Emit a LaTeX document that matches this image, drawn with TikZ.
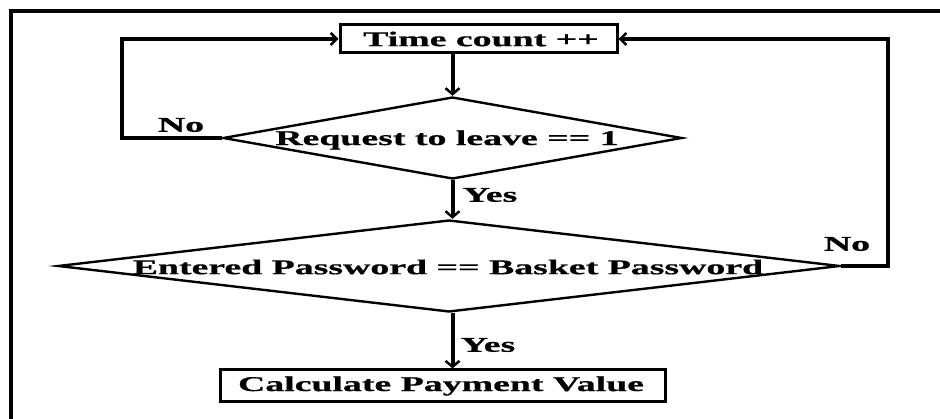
\documentclass[tikz,border=0pt]{standalone}
\usepackage{fontspec}
\usepackage{graphicx}
\setmainfont{Liberation Serif}
\newfontfamily\heavyserif{Liberation Serif Bold}[FakeBold=0.6]
\usetikzlibrary{shapes.geometric,arrows.meta}

% wide heavy lettering used for every label
\newcommand\widetext[1]{\scalebox{1.8}[1]{\fontsize{21}{24}\heavyserif #1}}

\begin{document}
\begin{tikzpicture}[x=1pt,y=-1pt,
  procbox/.style={draw,line width=3pt,rectangle,inner sep=0pt},
  decision/.style={draw,line width=2.4pt,diamond,inner sep=0pt},
  flow/.style={line width=4pt,-{Straight Barb[length=6pt,width=14pt,line width=2.5pt]}},
  loopline/.style={line width=3.5pt,-{Straight Barb[length=6pt,width=12pt,line width=2.5pt]}},
  tag/.style={inner sep=0pt,anchor=center}]
  \useasboundingbox (0,0) rectangle (940,419);
  \fill[white] (0,0) rectangle (940,419);

  % frame
  \draw[line width=4pt] (11,419) -- (11,11) -- (940,11);

  % nodes
  \node[procbox,minimum width=277pt,minimum height=28pt] (count) at (478.5,39) {};
  \node[tag] at (481,39) {\widetext{Time count ++}};

  \node[decision,minimum width=459pt,minimum height=82pt] (leave) at (452.5,138) {};
  \node[tag] at (447,140) {\widetext{Request to leave == 1}};

  \node[decision,minimum width=782pt,minimum height=92pt] (pass) at (449,266) {};
  \node[tag] at (448,267) {\widetext{Entered Password == Basket Password}};

  \node[procbox,minimum width=445pt,minimum height=32pt] (pay) at (442.5,386) {};
  \node[tag] at (441,386) {\widetext{Calculate Payment Value}};

  % connectors
  \draw[flow] (leave.north |- count.south) -- (leave.north);
  \draw[flow] (leave.south) -- (pass.north -| leave.south);
  \draw[flow] (pass.south -| leave.south) -- (pay.north -| leave.south);

  \coordinate (lup) at (122,39);
  \coordinate (rup) at (888,39);
  \draw[loopline] (leave.west) -- (leave.west -| lup) -- (lup) -- (count.west);
  \draw[loopline] (pass.east) -- (pass.east -| rup) -- (rup) -- (count.east);

  % branch labels
  \node[tag] (no1) at (181,125) {\widetext{No}};
  \node[tag] (no2) at (847,244) {\widetext{No}};
  \node[tag] (yes1) at (490,195) {\widetext{Yes}};
  \node[tag] (yes2) at (488,345) {\widetext{Yes}};
\end{tikzpicture}
\end{document}
